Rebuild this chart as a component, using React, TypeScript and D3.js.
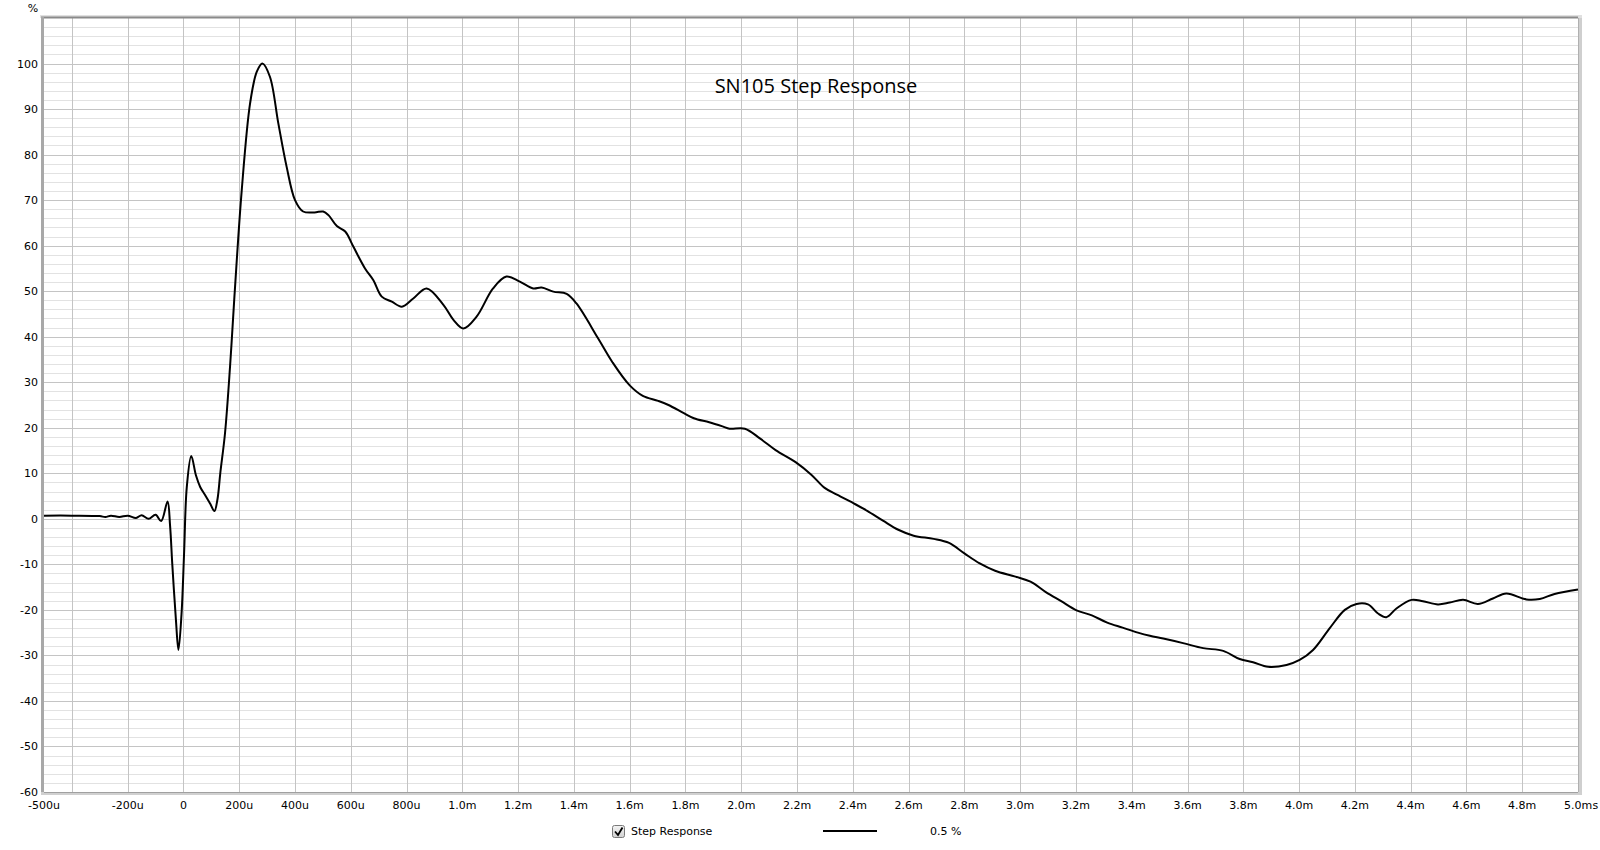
import React from "react";
import * as d3 from "d3";

const timeMs: number[] = [
  -0.5, -0.4, -0.3, -0.28, -0.26, -0.23, -0.2, -0.17, -0.15, -0.125, -0.1, -0.08,
  -0.057, -0.048, -0.04, -0.027, -0.018, -0.007, 0.002, 0.012, 0.028, 0.045, 0.06, 0.078,
  0.096, 0.111, 0.122, 0.132, 0.149, 0.167, 0.182, 0.209, 0.239, 0.263, 0.283, 0.31, 0.34, 0.37, 0.4, 0.429,
  0.47, 0.501, 0.52, 0.55, 0.58, 0.609, 0.651, 0.681, 0.711, 0.747, 0.783, 0.824, 0.872,
  0.932, 0.968, 1.004, 1.051, 1.11, 1.158, 1.206, 1.254, 1.284, 1.326, 1.374, 1.409,
  1.487, 1.538, 1.6, 1.647, 1.702, 1.739, 1.794, 1.83, 1.885, 1.933, 1.958, 2.013, 2.068,
  2.123, 2.196, 2.251, 2.299, 2.343, 2.409, 2.453, 2.508, 2.563, 2.618, 2.69, 2.745, 2.8,
  2.855, 2.91, 2.983, 3.037, 3.092, 3.147, 3.202, 3.257, 3.312, 3.367, 3.422, 3.465,
  3.513, 3.584, 3.656, 3.728, 3.787, 3.835, 3.889, 3.955, 4.002, 4.05, 4.11, 4.164,
  4.206, 4.247, 4.283, 4.313, 4.349, 4.403, 4.444, 4.498, 4.54, 4.588, 4.641, 4.695,
  4.743, 4.815, 4.863, 4.916, 5.0,
];

const stepPct: number[] = [
  0.7, 0.7, 0.6, 0.4, 0.7, 0.4, 0.7, 0.2, 0.8, 0.0, 0.9, -0.5,
  3.8, -1.5, -10.0, -22.2, -28.8, -21.0, -8.0, 7.0, 13.8, 9.5, 7.0, 5.2,
  3.3, 1.7, 4.3, 10.0, 18.8, 33.4, 48.1, 72.2, 91.3, 98.2, 100, 97.1, 86.9, 77.3, 70.0, 67.5,
  67.3, 67.5, 66.7, 64.3, 63.1, 59.8, 55.0, 52.4, 48.8, 47.7, 46.6, 48.4, 50.6,
  47.0, 43.7, 41.8, 44.4, 50.6, 53.2, 52.1, 50.6, 50.8, 49.9, 49.4, 47.3,
  39.6, 34.4, 29.3, 27.0, 25.9, 25.0, 23.2, 22.1, 21.2, 20.3, 19.8, 19.8, 17.6,
  15.1, 12.4, 9.7, 6.8, 5.3, 3.2, 1.7, -0.4, -2.4, -3.7, -4.4, -5.3, -7.6,
  -9.8, -11.4, -12.7, -13.8, -16.1, -18.1, -20.1, -21.2, -22.8, -23.9, -25.0, -25.7,
  -26.3, -27.3, -28.4, -29.0, -30.8, -31.5, -32.5, -32.1, -31.0, -28.8, -24.0, -20.0,
  -18.7, -18.8, -20.8, -21.6, -19.7, -17.8, -18.1, -18.8, -18.4, -17.8, -18.7, -17.5,
  -16.4, -17.7, -17.6, -16.5, -15.5,
];

const xTickValues: number[] = [-0.5, -0.2, 0, 0.2, 0.4, 0.6, 0.8, 1.0, 1.2, 1.4, 1.6, 1.8, 2.0, 2.2, 2.4, 2.6, 2.8, 3.0, 3.2, 3.4, 3.6, 3.8, 4.0, 4.2, 4.4, 4.6, 4.8, 5.0];
const xTickLabels: string[] = ["-500u", "-200u", "0", "200u", "400u", "600u", "800u", "1.0m", "1.2m", "1.4m", "1.6m", "1.8m", "2.0m", "2.2m", "2.4m", "2.6m", "2.8m", "3.0m", "3.2m", "3.4m", "3.6m", "3.8m", "4.0m", "4.2m", "4.4m", "4.6m", "4.8m", "5.0m"];
const xGridValues: number[] = d3.range(-0.4, 4.81, 0.2).map((v) => Math.round(v * 10) / 10);
const yTickValues: number[] = [100, 90, 80, 70, 60, 50, 40, 30, 20, 10, 0, -10, -20, -30, -40, -50, -60];
const yMinorValues: number[] = d3.range(-58, 110, 2).filter((v) => v % 10 !== 0);

const TITLE = "SN105 Step Response";
const LEGEND_NAME = "Step Response";
const LEGEND_SMOOTH = "0.5 %";

export default function App() {
  const left = 44, right = 1578, top = 18, bottom = 792;
  const x = d3.scaleLinear().domain([-0.5, 5.0]).range([left, right]);
  const y = d3.scaleLinear().domain([-60, 110]).range([bottom, top]);
  const pts: [number, number][] = timeMs.map((t, i) => [t, stepPct[i]]);
  const line = d3
    .line<[number, number]>()
    .x((d) => x(d[0]))
    .y((d) => y(d[1]))
    .curve(d3.curveCatmullRom.alpha(0.5));
  const font = "'DejaVu Sans', sans-serif";

  return (
    <svg
      width={1600}
      height={850}
      style={{ position: "absolute", left: 0, top: 0, background: "#fff" }}
    >
      <defs>
        <linearGradient id="cb" x1="0" y1="0" x2="0" y2="1">
          <stop offset="0" stopColor="#f4f4f4" />
          <stop offset="1" stopColor="#d0d0d0" />
        </linearGradient>
      </defs>
      <rect x={0} y={0} width={1600} height={850} fill="#fff" />
      <rect x={right} y={top - 1} width={4} height={bottom - top + 4} fill="#cfcfcf" />
      <rect x={left - 3} y={bottom} width={right - left + 7} height={3} fill="#d0d0d0" />
      <rect x={left - 4} y={top - 3} width={right - left + 8} height={3} fill="#e0e0e0" />
      {yMinorValues.map((v) => (
        <line key={"m" + v} x1={left} x2={right} y1={Math.round(y(v)) + 0.5} y2={Math.round(y(v)) + 0.5} stroke="#e2e2e2" strokeWidth={1} />
      ))}
      {yTickValues.map((v) => (
        <line key={"M" + v} x1={left} x2={right} y1={Math.round(y(v)) + 0.5} y2={Math.round(y(v)) + 0.5} stroke="#c4c4c4" strokeWidth={1} />
      ))}
      {xGridValues.map((v) => (
        <line key={"v" + v} x1={Math.round(x(v)) + 0.5} x2={Math.round(x(v)) + 0.5} y1={top} y2={bottom} stroke="#c4c4c4" strokeWidth={1} />
      ))}
      <line x1={left - 3} x2={right} y1={top - 0.5} y2={top - 0.5} stroke="#8a8a8a" strokeWidth={2} />
      <rect x={left - 3} y={top - 1} width={3} height={bottom - top + 1} fill="#a8a8a8" />
      <line x1={left} x2={right} y1={bottom + 0.5} y2={bottom + 0.5} stroke="#a0a0a0" strokeWidth={1} />
      <line x1={right + 0.5} x2={right + 0.5} y1={top} y2={bottom} stroke="#b0b0b0" strokeWidth={1} />
      <path d={line(pts) || ""} fill="none" stroke="#000" strokeWidth={2} strokeLinejoin="round" />
      {yTickValues.map((v) => (
        <text key={"yl" + v} x={38} y={y(v) + 4} textAnchor="end" fontFamily={font} fontSize={11} fill="#000">
          {v}
        </text>
      ))}
      <text x={33} y={12} textAnchor="middle" fontFamily={font} fontSize={11} fill="#000">%</text>
      {xTickValues.map((v, i) => (
        <text key={"xl" + v} x={x(v)} y={809} textAnchor="middle" fontFamily={font} fontSize={11} fill="#000">
          {xTickLabels[i]}
        </text>
      ))}
      <text x={x(5.0) + 14.5} y={809} textAnchor="start" fontFamily={font} fontSize={11} fill="#000">s</text>
      <text x={816} y={93} textAnchor="middle" fontFamily="'Open Sans', sans-serif" fontSize={20} fill="#000">
        {TITLE}
      </text>
      <rect x={612.5} y={825.5} width={12} height={12} rx={2} fill="url(#cb)" stroke="#7a7a7a" strokeWidth={1} />
      <path d="M615 831.5 L618 835 L622.5 827.5" fill="none" stroke="#000" strokeWidth={1.8} />
      <text x={631} y={835} fontFamily={font} fontSize={11} fill="#000">{LEGEND_NAME}</text>
      <line x1={823} x2={877} y1={831} y2={831} stroke="#000" strokeWidth={2} />
      <text x={930} y={835} fontFamily={font} fontSize={11} fill="#000">{LEGEND_SMOOTH}</text>
    </svg>
  );
}
